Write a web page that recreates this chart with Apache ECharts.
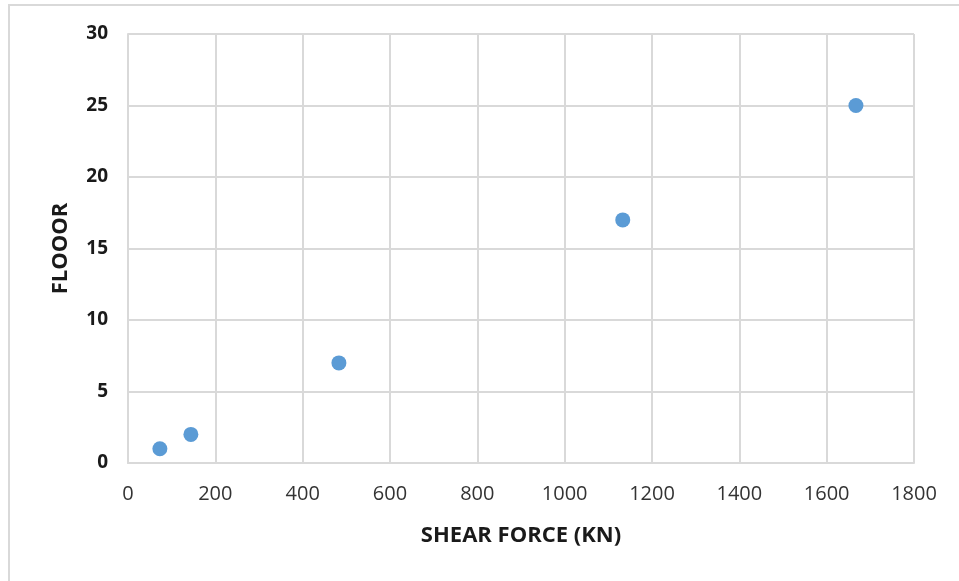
<!DOCTYPE html>
<html><head><meta charset="utf-8">
<script src="https://cdn.jsdelivr.net/npm/echarts@6/dist/echarts.min.js"></script>
<style>html,body{margin:0;padding:0;background:#fff}#c{width:959px;height:581px}</style>
</head><body><div id="c"></div>
<script>
var shearForce = [73, 144, 483, 1133, 1667];
var floors = [1, 2, 7, 17, 25];
var xTitle = 'SHEAR FORCE (KN)';
var yTitle = 'FLOOOR';

var points = shearForce.map(function (v, i) { return [v, floors[i]]; });
var chart = echarts.init(document.getElementById('c'), null, { renderer: 'canvas' });
chart.setOption({
  animation: false,
  backgroundColor: '#fff',
  graphic: [{
    type: 'rect', left: 8, top: 4, silent: true, z: -1,
    shape: { width: 1000, height: 700 },
    style: { fill: '#fff', stroke: '#d9d9d9', lineWidth: 2 }
  }],
  grid: { left: 128, right: 45, top: 34, bottom: 118 },
  xAxis: {
    type: 'value', min: 0, max: 1800, interval: 200,
    name: xTitle, nameLocation: 'middle', nameGap: 62,
    nameTextStyle: { fontFamily: 'Open Sans', fontWeight: 'bold', fontSize: 22, color: '#1a1a1a' },
    axisLine: { show: true, lineStyle: { color: '#d9d9d9', width: 2 } },
    axisTick: { show: false },
    axisLabel: { fontFamily: 'Open Sans', fontSize: 20, color: '#333', margin: 21,
      formatter: function (v) { return String(v); } },
    splitLine: { show: true, lineStyle: { color: '#d9d9d9', width: 2 } }
  },
  yAxis: {
    type: 'value', min: 0, max: 30, interval: 5,
    name: yTitle, nameLocation: 'middle', nameGap: 56, nameRotate: 90,
    nameTextStyle: { fontFamily: 'Open Sans', fontWeight: 'bold', fontSize: 22, color: '#1a1a1a' },
    axisLine: { show: true, lineStyle: { color: '#d9d9d9', width: 2 } },
    axisTick: { show: false },
    axisLabel: { fontFamily: 'Open Sans', fontWeight: 'bold', fontSize: 19, color: '#1a1a1a', margin: 20 },
    splitLine: { show: true, lineStyle: { color: '#d9d9d9', width: 2 } }
  },
  series: [{
    type: 'scatter', data: points, symbol: 'circle', symbolSize: 15,
    itemStyle: { color: '#5b9bd5', opacity: 1 }
  }]
});
</script></body></html>
